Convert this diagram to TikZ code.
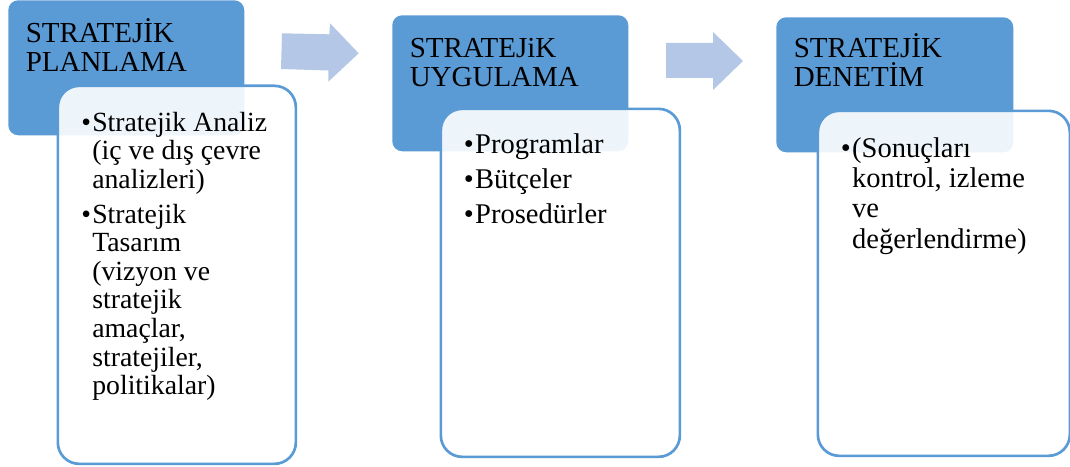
\documentclass[tikz,border=0pt]{standalone}
\usepackage{fontspec}
\setmainfont{Liberation Serif}
\definecolor{hdrblue}{HTML}{5B9BD5}
\definecolor{arrowblue}{HTML}{B4C7E7}
\begin{document}
\begin{tikzpicture}[x=0.75pt,y=-0.75pt,
  hdr/.style={fill=hdrblue, rounded corners=7.5pt, inner sep=0pt, anchor=north west},
  card/.style={draw=hdrblue, line width=2pt, fill=white, fill opacity=0.9, rounded corners=16pt, inner sep=0pt, anchor=north west},
  hdrtext/.style={inner sep=0pt, anchor=base west, font=\fontsize{21.75}{21.75}\selectfont},
  bodytext/.style={inner sep=0pt, anchor=base west},
  blockarrow/.style={fill=arrowblue}]

\useasboundingbox (0,0) rectangle (1070,467);

% header boxes
\node[hdr, minimum width=177pt, minimum height=101.25pt] (p1) at (8,0) {};
\node[hdr, minimum width=177pt, minimum height=102pt] (p2) at (392,15) {};
\node[hdr, minimum width=177.75pt, minimum height=101.25pt] (p3) at (776,17) {};

% cards
\node[card, minimum width=178.5pt, minimum height=283.5pt] (c1) at (56.5,84.5) {};
\node[card, minimum width=179.25pt, minimum height=261pt] (c2) at (439.5,107.5) {};
\node[card, minimum width=189pt, minimum height=258.75pt] (c3) at (816.5,109.5) {};

% block arrows
\fill[blockarrow] (282,33.3) -- (329.3,34.3) -- (330,23.3) -- (358.7,53.3) -- (328.3,81.7) -- (328.3,70.5) -- (281,69) -- cycle;
\fill[blockarrow] (666,43) -- (713,43) -- (713,32) -- (743,61) -- (713,90) -- (713,78) -- (666,78) -- cycle;

% header texts
\node[hdrtext] (h1) at (25.5,43) {\begin{tabular}[t]{@{}l@{}}STRATEJİK\\PLANLAMA\end{tabular}};
\node[hdrtext] (h2) at (409.5,58) {\begin{tabular}[t]{@{}l@{}}STRATEJiK\\UYGULAMA\end{tabular}};
\node[hdrtext] (h3) at (793.5,58) {\begin{tabular}[t]{@{}l@{}}STRATEJİK\\\smash{DENETİM}\end{tabular}};

% body texts
\node[bodytext, font=\fontsize{20.8}{21.45}\selectfont] (t1) at (81,131) {\begin{tabular}[t]{@{}l@{}l@{}}
\textbullet\hspace{1pt} & Stratejik Analiz\\
 & (iç ve dış çevre\\
 & analizleri)\\[4.7pt]
\textbullet\hspace{1pt} & Stratejik\\
 & Tasarım\\
 & (vizyon ve\\
 & stratejik\\
 & amaçlar,\\
 & stratejiler,\\
 & politikalar)
\end{tabular}};

\node[bodytext, font=\fontsize{21.4}{21.45}\selectfont] (t2) at (463.6,153) {\begin{tabular}[t]{@{}l@{}l@{}}
\textbullet\hspace{1pt} & Programlar\\[4.8pt]
\textbullet\hspace{1pt} & Bütçeler\\[4.8pt]
\textbullet\hspace{1pt} & Prosedürler
\end{tabular}};

\node[bodytext, font=\fontsize{21.4}{22.8}\selectfont] (t3) at (840.6,157) {\begin{tabular}[t]{@{}l@{}l@{}}
\textbullet\hspace{1pt} & (Sonuçları\\
 & kontrol, izleme\\
 & ve\\
 & değerlendirme)
\end{tabular}};
\end{tikzpicture}
\end{document}
